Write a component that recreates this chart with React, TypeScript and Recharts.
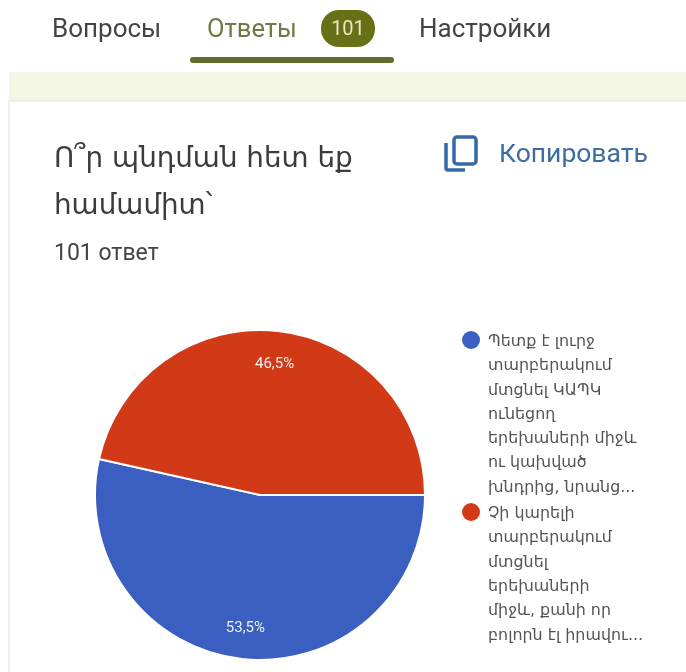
import React from "react";
import { PieChart, Pie, Cell, Legend } from "recharts";

const tabs = ["Вопросы", "Ответы", "Настройки"];
const responseCount = "101";
const titleLines = ["Ո՞ր պնդման հետ եք", "համամիտ՝"];
const subtitle = "101 ответ";
const copyLabel = "Копировать";
const sliceNames = ["blue", "red"];
const sliceValues = [53.5, 46.5];
const sliceLabels = ["53,5%", "46,5%"];
const sliceColors = ["#3a5fc0", "#d23a17"];
const legendBlue = ["Պետք է լուրջ", "տարբերակում", "մտցնել ԿԱՊԿ", "ունեցող", "երեխաների միջև", "ու կախված", "խնդրից, նրանց..."];
const legendRed = ["Չի կարելի", "տարբերակում", "մտցնել", "երեխաների", "միջև, քանի որ", "բոլորն էլ իրավու..."];
const legendLines = [legendBlue, legendRed];

const data = sliceNames.map((name, i) => ({ name, value: sliceValues[i], label: sliceLabels[i] }));
const RAD = Math.PI / 180;
const uiFont = "Roboto, 'Noto Sans', sans-serif";
const armFont = "'DejaVu Sans', sans-serif";

const SliceLabel = (p: any) => {
  const r = p.outerRadius * 0.805;
  const x = p.cx + r * Math.cos(-p.midAngle * RAD);
  const y = p.cy + r * Math.sin(-p.midAngle * RAD);
  return (
    <text x={x} y={y} fill="#f0f0f0" fontSize={15} fontFamily={uiFont} textAnchor="middle" dominantBaseline="central">
      {p.payload.label}
    </text>
  );
};

const LegendBox = () => (
  <div style={{ fontFamily: armFont, fontSize: 15.9, color: "#555", lineHeight: "24.3px" }}>
    {legendLines.map((lines, i) => (
      <div key={i} style={{ position: "relative", paddingLeft: 26, marginBottom: i === 0 ? 2 : 0 }}>
        <span style={{ position: "absolute", left: 0, top: 2, width: 18, height: 18, borderRadius: 9, background: sliceColors[i] }} />
        {lines.map((l, j) => <div key={j} style={{ whiteSpace: "nowrap" }}>{l}</div>)}
      </div>
    ))}
  </div>
);

const box = (s: React.CSSProperties): React.CSSProperties => ({ position: "absolute", ...s });

export default function App() {
  return (
    <div style={box({ left: 0, top: 0, width: 686, height: 672, background: "#fff", overflow: "hidden", filter: "blur(0.7px)" })}>
      <div style={box({ left: 52, top: 13, fontFamily: uiFont, fontSize: 26, color: "#444" })}>{tabs[0]}</div>
      <div style={box({ left: 207, top: 13, fontFamily: uiFont, fontSize: 25.5, color: "#6d7a45" })}>{tabs[1]}</div>
      <div style={box({ left: 321, top: 10, width: 54, height: 37, borderRadius: 18, background: "#667014", color: "#e8e8c8", fontFamily: uiFont, fontSize: 20, textAlign: "center", lineHeight: "37px" })}>{responseCount}</div>
      <div style={box({ left: 419, top: 13, fontFamily: uiFont, fontSize: 26, color: "#444" })}>{tabs[2]}</div>
      <div style={box({ left: 190, top: 57, width: 204, height: 6, borderRadius: 3, background: "#5f6b2a" })} />
      <div style={box({ left: 9, top: 72, width: 677, height: 27, background: "#f3f6e2" })} />
      <div style={box({ left: 9, top: 99, width: 677, height: 3, background: "#eef0ea" })} />
      <div style={box({ left: 8, top: 100, width: 2, height: 572, background: "#f0f0ee" })} />
      {titleLines.map((t, i) => (
        <div key={i} style={box({ left: 54, top: 141 + i * 47, fontFamily: armFont, fontSize: 27.8, color: "#3c3c3c", whiteSpace: "nowrap" })}>{t}</div>
      ))}
      <div style={box({ left: 54, top: 239, fontFamily: uiFont, fontSize: 23, color: "#444" })}>{subtitle}</div>
      <svg style={box({ left: 443, top: 134 })} width={38} height={40} fill="none" stroke="#3568a8" strokeWidth={3.5}>
        <rect x={11} y={3} width={22} height={27} rx={3} />
        <path d="M3 9 V34 a2 2 0 0 0 2 2 H22" />
      </svg>
      <div style={box({ left: 499, top: 137, fontFamily: uiFont, fontSize: 26.5, color: "#3f6d9e" })}>{copyLabel}</div>
      <div style={box({ left: 0, top: 0 })}>
        <PieChart width={686} height={672} margin={{ top: 0, right: 0, bottom: 0, left: 0 }}>
          <Pie data={data} dataKey="value" nameKey="name" cx={260} cy={495} outerRadius={165} startAngle={0} endAngle={-360}
            stroke="#fff" strokeWidth={2} isAnimationActive={false} label={SliceLabel} labelLine={false}>
            {data.map((d, i) => <Cell key={d.name} fill={sliceColors[i]} />)}
          </Pie>
          <Legend content={<LegendBox />} layout="vertical" wrapperStyle={{ left: 462, top: 329, width: 220, bottom: "auto", right: "auto" }} />
        </PieChart>
      </div>
    </div>
  );
}
